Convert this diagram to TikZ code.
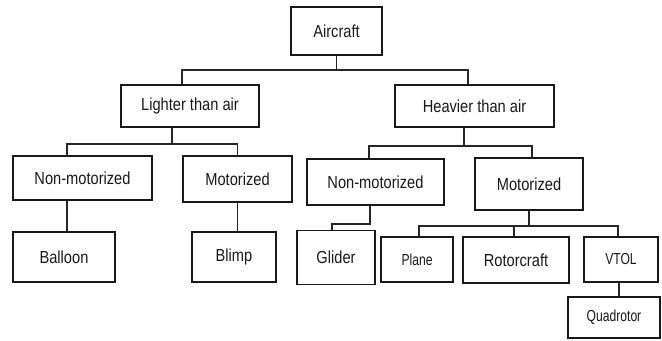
\documentclass[tikz,border=0pt]{standalone}
\usepackage{fontspec}
\setmainfont{Liberation Sans}
\newfontfamily\bigfont[FakeStretch=0.84]{Liberation Sans}
\newfontfamily\smallfont[FakeStretch=0.76]{Liberation Sans}
\begin{document}
\begin{tikzpicture}[x=1bp,y=-1bp,
  box/.style={draw=black!90,line width=1.6bp,inner sep=0pt,
    font=\bigfont\fontsize{17.5}{20}\selectfont,text=black!90},
  sbox/.style={box,font=\smallfont\fontsize{16}{19}\selectfont},
  link/.style={draw=black!85,line width=1.5bp}]
\useasboundingbox (0,0) rectangle (662,340);
\fill[white] (0,0) rectangle (662,340);
% nodes
\node[box,minimum width=91bp,minimum height=48bp] (air) at (336.5,31) {Aircraft};
\node[box,minimum width=138bp,minimum height=42bp] (lit) at (190,106) {Lighter than air};
\node[box,minimum width=159bp,minimum height=42bp] (hev) at (474.5,106) {Heavier than air};
\node[box,minimum width=139bp,minimum height=44bp] (nm1) at (82.5,178) {Non-motorized};
\node[box,minimum width=109bp,minimum height=46bp] (m1) at (237.5,179) {Motorized};
\node[box,minimum width=137bp,minimum height=46bp] (nm2) at (375.5,182) {Non-motorized};
\node[box,minimum width=108bp,minimum height=52bp] (m2) at (529,184) {Motorized};
\node[box,minimum width=102bp,minimum height=50bp] (bal) at (64,257) {Balloon};
\node[box,minimum width=84bp,minimum height=50bp] (bli) at (234,257) {Blimp};
\node[box,minimum width=78bp,minimum height=54bp] (gli) at (336,257.5) {Glider};
\node[sbox,minimum width=72bp,minimum height=45bp] (pla) at (417,259.5) {Plane};
\node[box,minimum width=106bp,minimum height=46bp] (rot) at (516,260) {Rotorcraft};
\node[sbox,minimum width=74bp,minimum height=45bp] (vto) at (621,259.5) {VTOL};
\node[sbox,minimum width=92bp,minimum height=41bp] (qua) at (614,317.5) {Quadrotor};
% connectors
\draw[link] (air.south) -- ++(0,14) coordinate (j1);
\draw[link] ([xshift=-8bp]lit.north) |- (j1) -| ([xshift=-6.5bp]hev.north);
\draw[link] ([xshift=-18bp]lit.south) -- ++(0,16) coordinate (j2);
\draw[link] ([xshift=-15.5bp]nm1.north) |- (j2) -| (m1.north);
\draw[link] ([xshift=-10.5bp]hev.south) -- ++(0,18) coordinate (j3);
\draw[link] ([xshift=-6.5bp]nm2.north) |- (j3) -| ([xshift=3bp]m2.north);
\draw[link] ([xshift=-15.5bp]nm1.south) -- ([xshift=-15.5bp]nm1.south |- bal.north);
\draw[link] (m1.south) -- (m1.south |- bli.north);
\draw[link] ([xshift=-5.5bp]nm2.south) -- ++(0,18) -| ([xshift=-4bp]gli.north);
\draw[link] (m2.south) -- ++(0,15) coordinate (j5);
\draw[link] ([xshift=2bp]pla.north) |- (j5) -| ([xshift=-3bp]vto.north);
\draw[link] ([xshift=-2bp]rot.north) |- (j5);
\draw[link] ([xshift=-2bp]vto.south) -- ([xshift=-2bp]vto.south |- qua.north);
\end{tikzpicture}
\end{document}
